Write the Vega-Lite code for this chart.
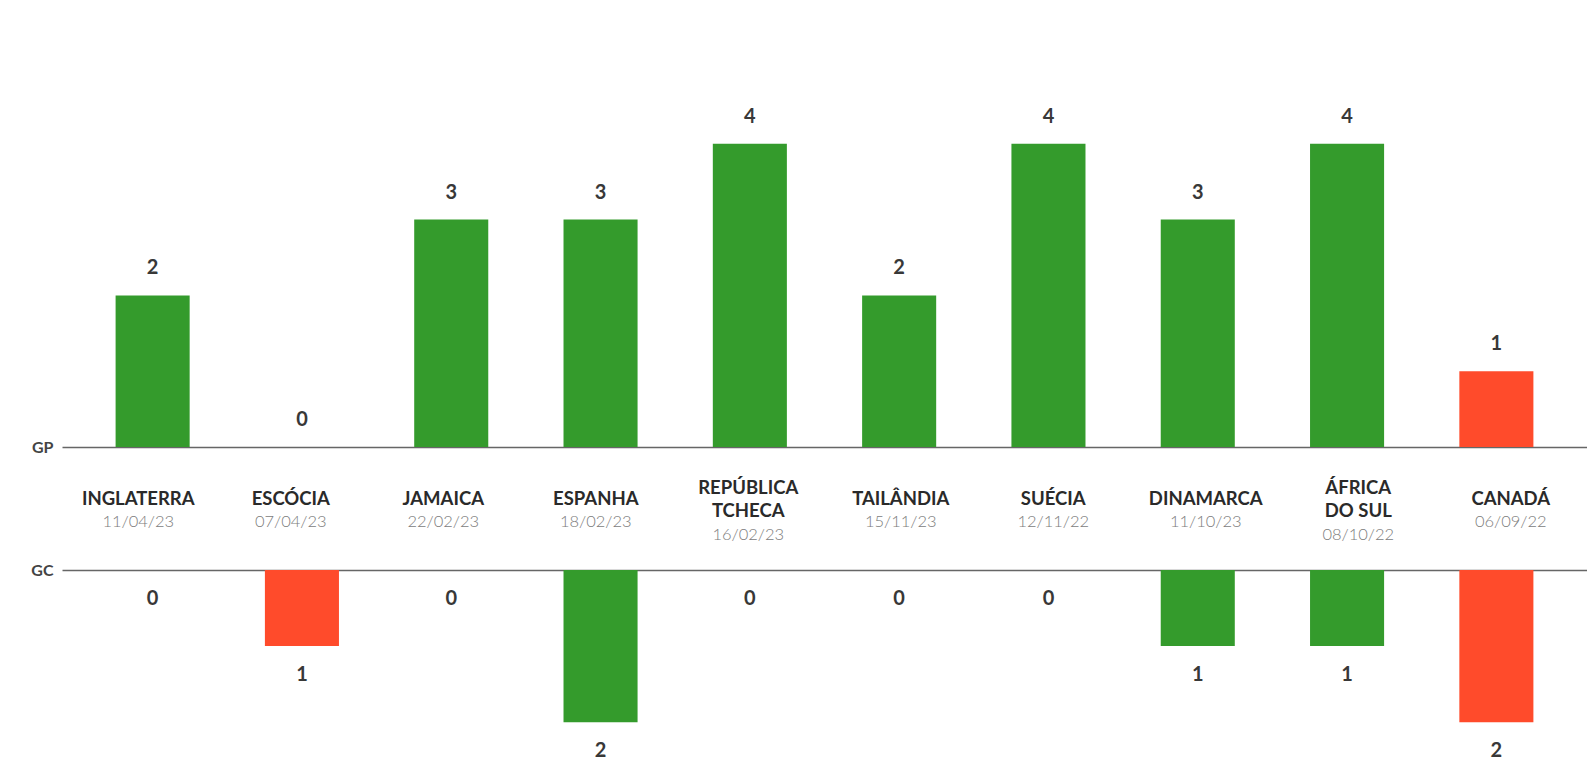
{
  "$schema": "https://vega.github.io/schema/vega-lite/v6.json",
  "background": "white",
  "padding": {"left": 30, "top": 68, "right": 0, "bottom": 0},
  "spacing": 0,
  "bounds": "flush",
  "config": {
    "view": {"stroke": null},
    "font": "Lato",
    "axis": {"grid": false}
  },
  "datasets": {
    "jogos": [
      {"adversario": "INGLATERRA", "data": "11/04/23", "gp": 2, "gc": 0, "resultado": "vitória"},
      {"adversario": "ESCÓCIA", "data": "07/04/23", "gp": 0, "gc": 1, "resultado": "derrota"},
      {"adversario": "JAMAICA", "data": "22/02/23", "gp": 3, "gc": 0, "resultado": "vitória"},
      {"adversario": "ESPANHA", "data": "18/02/23", "gp": 3, "gc": 2, "resultado": "vitória"},
      {"adversario": "REPÚBLICA\nTCHECA", "data": "16/02/23", "gp": 4, "gc": 0, "resultado": "vitória"},
      {"adversario": "TAILÂNDIA", "data": "15/11/23", "gp": 2, "gc": 0, "resultado": "vitória"},
      {"adversario": "SUÉCIA", "data": "12/11/22", "gp": 4, "gc": 0, "resultado": "vitória"},
      {"adversario": "DINAMARCA", "data": "11/10/23", "gp": 3, "gc": 1, "resultado": "vitória"},
      {"adversario": "ÁFRICA\nDO SUL", "data": "08/10/22", "gp": 4, "gc": 1, "resultado": "vitória"},
      {"adversario": "CANADÁ", "data": "06/09/22", "gp": 1, "gc": 2, "resultado": "derrota"}
    ]
  },
  "vconcat": [
    {
      "width": 1525,
      "height": 379,
      "data": {"name": "jogos"},
      "encoding": {
        "x": {
          "field": "adversario", "type": "nominal", "sort": null,
          "scale": {"paddingInner": 0.504, "paddingOuter": 0.359},
          "axis": {"title": null, "labels": false, "ticks": false, "domain": true, "domainColor": "#666666", "domainWidth": 1.6}
        },
        "y": {
          "field": "gp", "type": "quantitative",
          "scale": {"domain": [0, 5], "nice": false},
          "axis": {
            "title": "GP", "labels": false, "ticks": false, "domain": false,
            "titleAngle": 0, "titleAlign": "right", "titleBaseline": "middle",
            "titleX": -9, "titleY": 379, "titleFontSize": 16, "titleFontWeight": "bold", "titleColor": "#444444"
          }
        }
      },
      "layer": [
        {
          "mark": {"type": "bar"},
          "encoding": {
            "color": {
              "field": "resultado", "type": "nominal",
              "scale": {"domain": ["vitória", "derrota"], "range": ["#349B2C", "#FF4B2B"]},
              "legend": null
            }
          }
        },
        {
          "mark": {"type": "text", "dy": -27, "baseline": "middle", "fontSize": 20, "fontWeight": "bold", "color": "#383838"},
          "encoding": {"text": {"field": "gp", "type": "quantitative"}}
        }
      ]
    },
    {
      "width": 1525,
      "height": 123,
      "data": {"name": "jogos"},
      "encoding": {
        "x": {
          "field": "adversario", "type": "nominal", "sort": null,
          "scale": {"paddingInner": 0.504, "paddingOuter": 0.359},
          "axis": null
        }
      },
      "layer": [
        {
          "mark": {"type": "text", "baseline": "middle", "dy": -9.7, "fontSize": 18.5, "fontWeight": "bold", "letterSpacing": 0.5, "color": "#2a2a2a"},
          "encoding": {
            "text": {
              "condition": {"test": "indexof(datum.adversario, '\\n') >= 0", "value": ""},
              "field": "adversario", "type": "nominal"
            }
          }
        },
        {
          "mark": {"type": "text", "lineBreak": "\n", "lineHeight": 23, "baseline": "middle", "dy": -20.5, "fontSize": 18.5, "fontWeight": "bold", "letterSpacing": 0.5, "color": "#2a2a2a"},
          "encoding": {
            "text": {
              "condition": {"test": "indexof(datum.adversario, '\\n') < 0", "value": ""},
              "field": "adversario", "type": "nominal"
            }
          }
        },
        {
          "mark": {"type": "text", "baseline": "middle", "dy": 13.3, "fontSize": 16.5, "fontWeight": 300, "color": "#7c7c7c"},
          "encoding": {
            "text": {
              "condition": {"test": "indexof(datum.adversario, '\\n') >= 0", "value": ""},
              "field": "data", "type": "nominal"
            }
          }
        },
        {
          "mark": {"type": "text", "baseline": "middle", "dy": 26.7, "fontSize": 16.5, "fontWeight": 300, "color": "#7c7c7c"},
          "encoding": {
            "text": {
              "condition": {"test": "indexof(datum.adversario, '\\n') < 0", "value": ""},
              "field": "data", "type": "nominal"
            }
          }
        }
      ]
    },
    {
      "width": 1525,
      "height": 194,
      "data": {"name": "jogos"},
      "encoding": {
        "x": {
          "field": "adversario", "type": "nominal", "sort": null,
          "scale": {"paddingInner": 0.504, "paddingOuter": 0.359},
          "axis": {"orient": "top", "title": null, "labels": false, "ticks": false, "domain": true, "domainColor": "#666666", "domainWidth": 1.6}
        },
        "y": {
          "field": "gc", "type": "quantitative",
          "scale": {"domain": [0, 2.55], "nice": false, "reverse": true},
          "axis": {
            "title": "GC", "labels": false, "ticks": false, "domain": false,
            "titleAngle": 0, "titleAlign": "right", "titleBaseline": "middle",
            "titleX": -9, "titleY": 0, "titleFontSize": 16, "titleFontWeight": "bold", "titleColor": "#444444"
          }
        }
      },
      "layer": [
        {
          "mark": {"type": "bar"},
          "encoding": {
            "color": {
              "field": "resultado", "type": "nominal",
              "scale": {"domain": ["vitória", "derrota"], "range": ["#349B2C", "#FF4B2B"]},
              "legend": null
            }
          }
        },
        {
          "mark": {"type": "text", "dy": 28.5, "baseline": "middle", "fontSize": 20, "fontWeight": "bold", "color": "#383838"},
          "encoding": {"text": {"field": "gc", "type": "quantitative"}}
        }
      ]
    }
  ]
}
